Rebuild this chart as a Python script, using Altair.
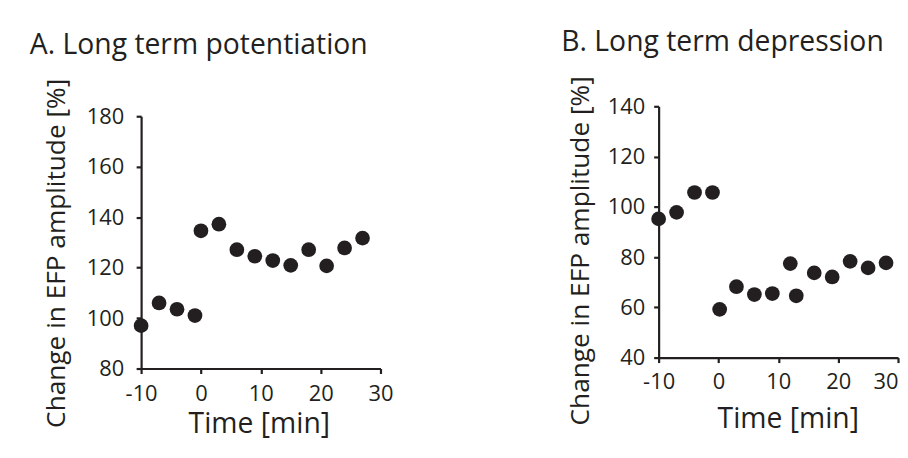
import altair as alt
import pandas as pd

# ---- data ----
ltp_time = [-10, -7, -4, -1, 0, 3, 6, 9, 12, 15, 18, 21, 24, 27]
ltp_change = [97, 106, 103.5, 101, 134.6, 137.2, 127.1, 124.5, 122.8, 120.9, 127.1, 120.7, 127.8, 131.7]

ltd_time = [-10, -7, -4, -1, 0.2, 3, 6, 9, 12, 13, 16, 19, 22, 25, 28]
ltd_change = [95.2, 97.8, 105.7, 105.7, 59.2, 68.2, 65.1, 65.5, 77.4, 64.6, 73.7, 72.1, 78.3, 75.7, 77.7]

x_ticks = [-10, 0, 10, 20, 30]
x_domain = [-10, 30]
ltp_y_ticks = [80, 100, 120, 140, 160, 180]
ltp_y_domain = [80, 180]
ltd_y_ticks = [40, 60, 80, 100, 120, 140]
ltd_y_domain = [40, 140]

ltp_title = "A. Long term potentiation"
ltd_title = "B. Long term depression"
x_title = "Time [min]"
y_title = "Change in EFP amplitude [%]"

INK = "#231f20"
FONT = "Open Sans"
HYPHEN_LABEL = "datum.value < 0 ? '-' + abs(datum.value) : '' + datum.value"


def panel(times, values, title, ydomain, yticks, w, h, yrange, title_dx, title_offset,
          ytitle_x, ytitle_y, ylabel_pad, xtitle_x, xtitle_y, xlabel_pad, xlabel_align):
    df = pd.DataFrame({"time": times, "change": values})
    return alt.Chart(df).mark_circle(size=220, color=INK, opacity=1).encode(
        x=alt.X("time:Q",
                scale=alt.Scale(domain=x_domain, nice=False, zero=False),
                axis=alt.Axis(values=x_ticks, title=x_title, titleX=xtitle_x,
                              titleY=xtitle_y, titleBaseline="alphabetic",
                              titleAlign="center", titleFontSize=28.5,
                              labelExpr=HYPHEN_LABEL, labelAlign=xlabel_align,
                              labelBaseline="alphabetic", labelPadding=xlabel_pad)),
        y=alt.Y("change:Q",
                scale=alt.Scale(domain=ydomain, range=yrange, nice=False, zero=False),
                axis=alt.Axis(values=yticks, title=y_title, titleX=ytitle_x,
                              titleY=ytitle_y, titleAngle=270,
                              titleBaseline="alphabetic", titleAlign="center",
                              titleFontSize=26.4, labelPadding=ylabel_pad,
                              labelBaseline="middle")),
    ).properties(
        width=w, height=h,
        title=alt.TitleParams(text=title, anchor="start", frame="group", dx=title_dx,
                              offset=title_offset, fontSize=28.5, font=FONT,
                              fontWeight="normal", color=INK, baseline="alphabetic"),
    )


# the last tick label of panel B sits at the page edge: right-align it so it stays inside
ltd_label_align = {"condition": {"test": "datum.value == 30", "value": "right"},
                   "value": "center"}

ltp = panel(ltp_time, ltp_change, ltp_title, ltp_y_domain, ltp_y_ticks, 241, 264, [264, 10],
            -112, -4.5, -77, 147.5, 12.5, 118.5, 64, 27, "center")
ltd = panel(ltd_time, ltd_change, ltd_title, ltd_y_domain, ltd_y_ticks, 241, 253, [253, 0],
            -98, -3.5, -71, 145, 9, 130, 70, 26, ltd_label_align)

chart = alt.hconcat(ltp, ltd, spacing=280, bounds="flush").properties(
    padding={"left": 22, "top": 18.5, "right": 0, "bottom": 2},
    background="white",
).configure_view(stroke=None).configure_axis(
    grid=False, domainColor=INK, domainWidth=2.2, tickColor=INK, tickWidth=2.2,
    tickSize=5, labelFont=FONT, labelFontSize=22, labelColor=INK,
    titleFont=FONT, titleColor=INK, titleFontWeight="normal",
    labelFlush=False, labelOverlap=False,
)

chart.save("out.html", embed_options={"renderer": "svg", "actions": False})
